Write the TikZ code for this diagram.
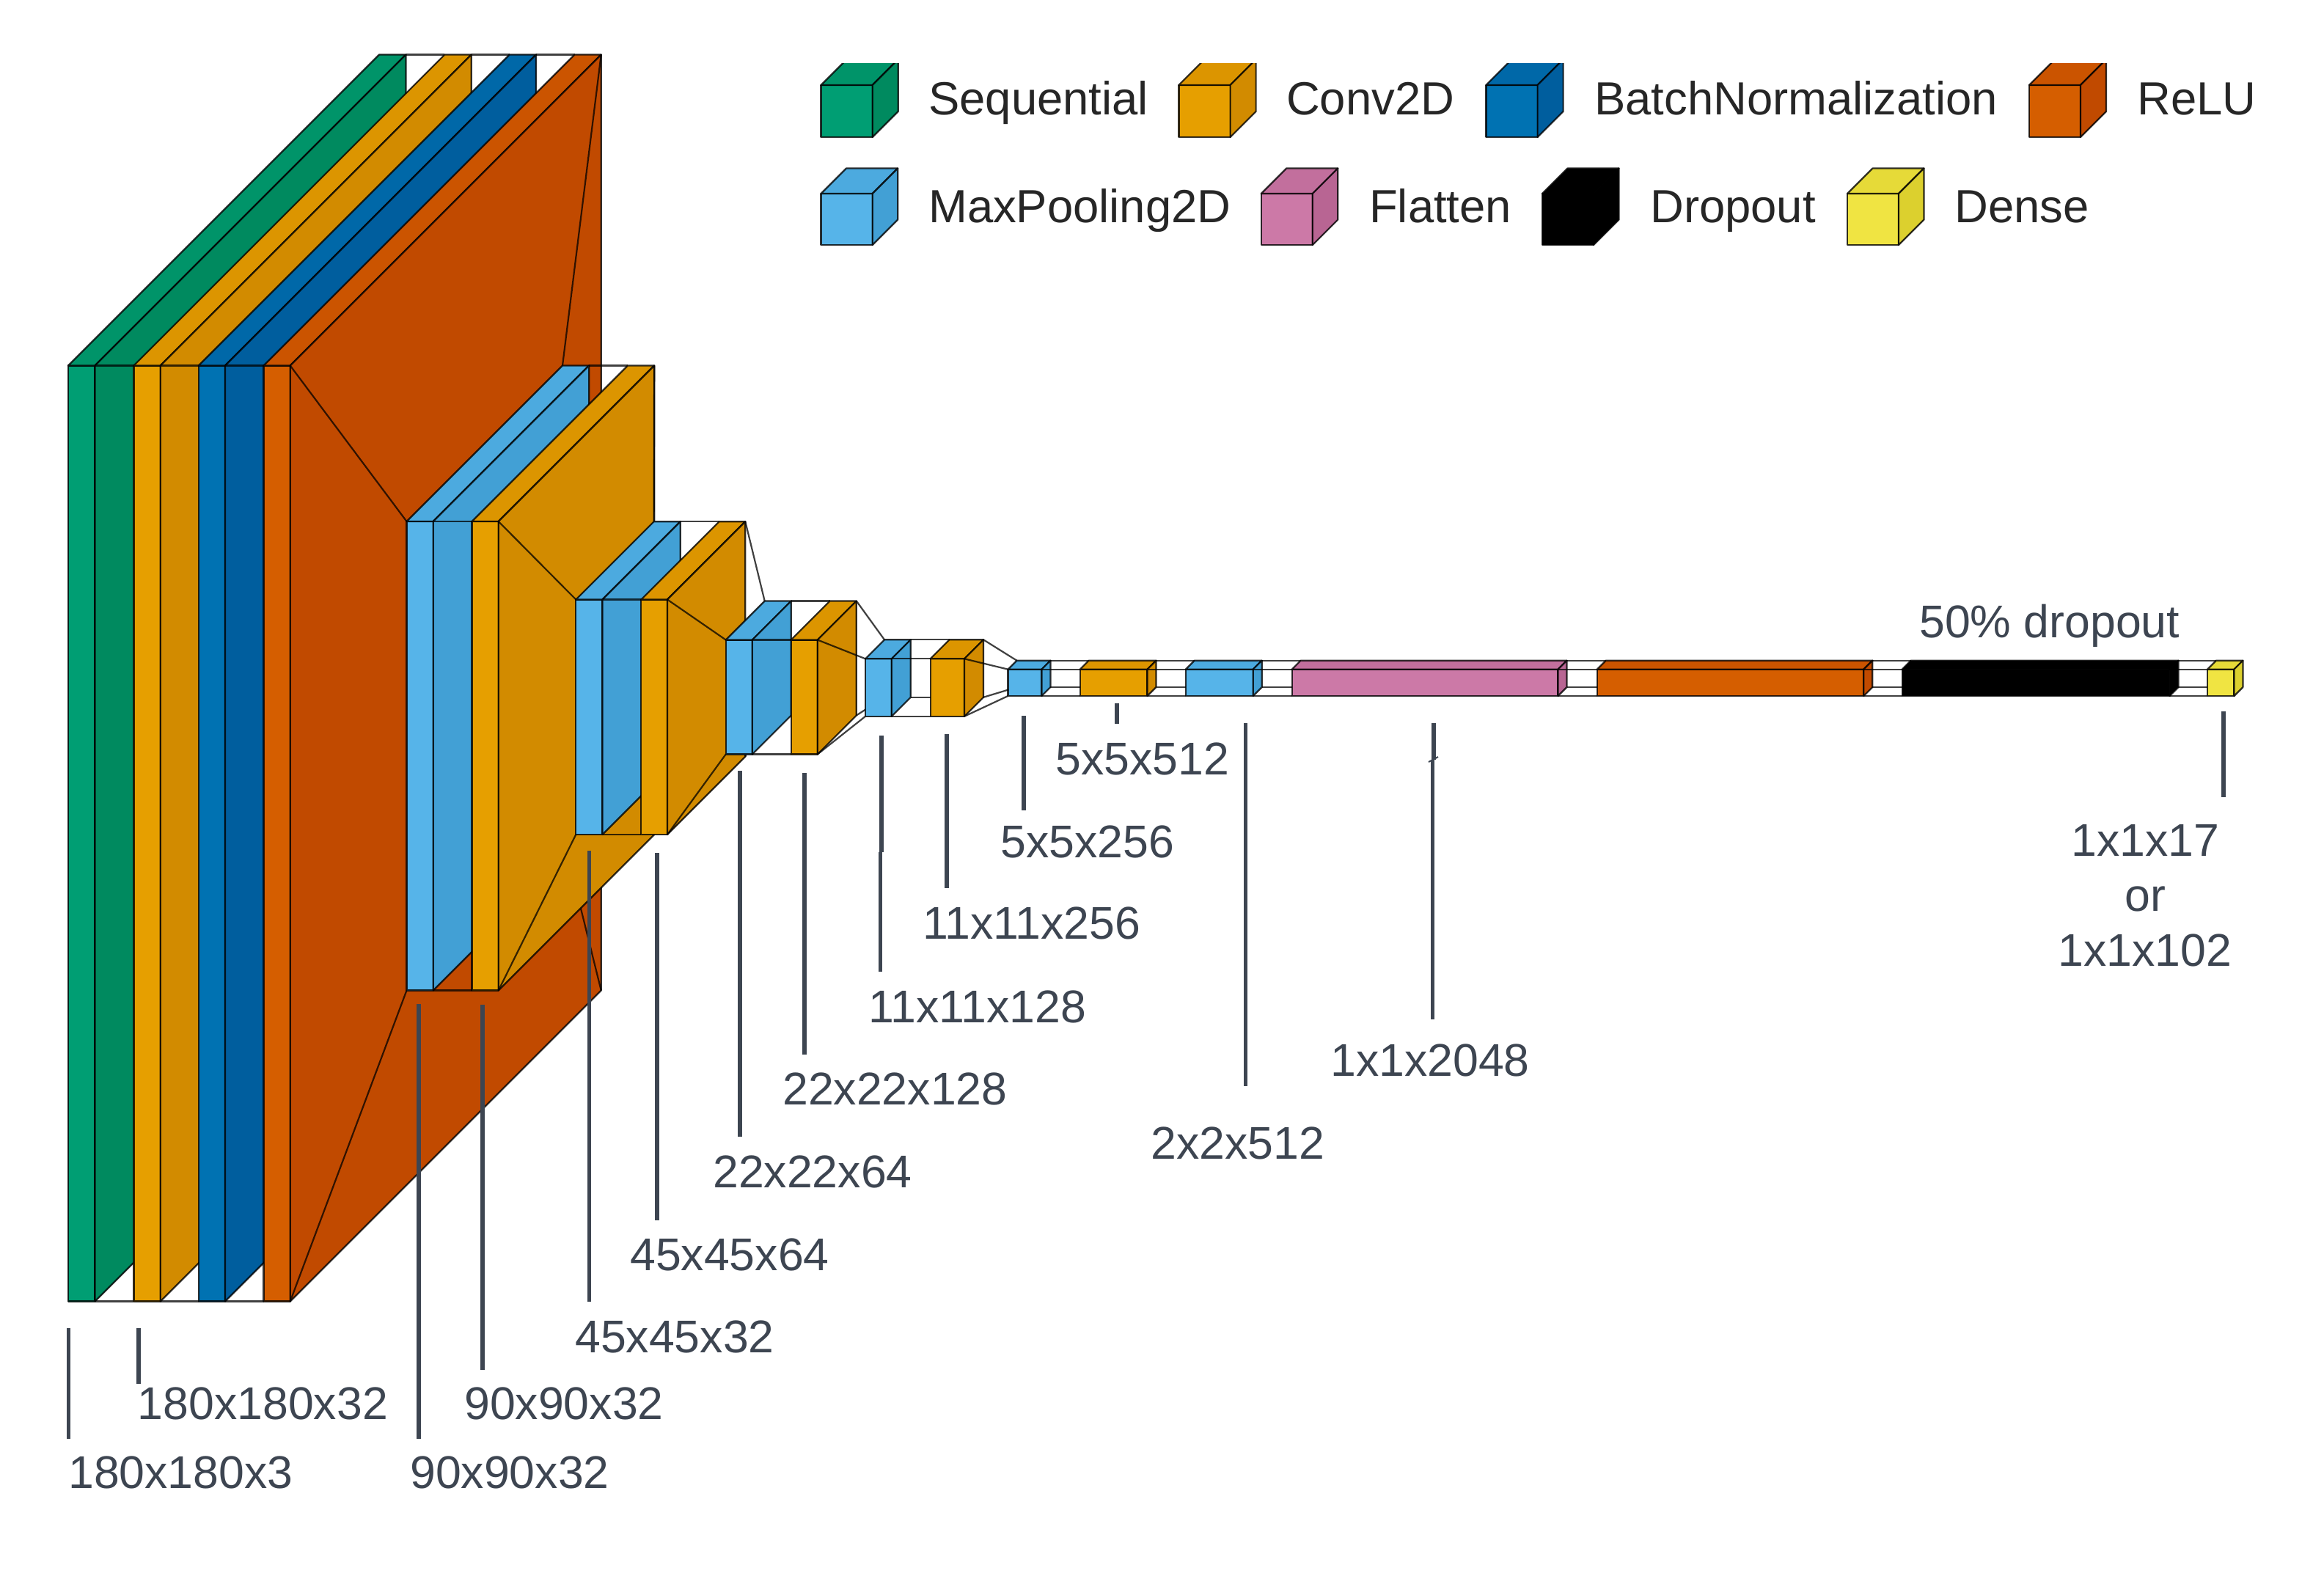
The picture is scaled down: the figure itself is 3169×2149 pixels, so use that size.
\documentclass[tikz,border=0pt]{standalone}
\usepackage{fontspec}
\setmainfont{Liberation Sans}
\definecolor{seqF}{HTML}{009E73}\definecolor{seqT}{HTML}{009469}\definecolor{seqS}{HTML}{008A5F}
\definecolor{conF}{HTML}{E69F00}\definecolor{conT}{HTML}{DC9500}\definecolor{conS}{HTML}{D28B00}
\definecolor{batF}{HTML}{0072B2}\definecolor{batT}{HTML}{0068A8}\definecolor{batS}{HTML}{005E9E}
\definecolor{relF}{HTML}{D55E00}\definecolor{relT}{HTML}{CB5400}\definecolor{relS}{HTML}{C14A00}
\definecolor{maxF}{HTML}{56B4E9}\definecolor{maxT}{HTML}{4CAADF}\definecolor{maxS}{HTML}{42A0D5}
\definecolor{flaF}{HTML}{CC79A7}\definecolor{flaT}{HTML}{C26F9D}\definecolor{flaS}{HTML}{B86593}
\definecolor{droF}{HTML}{000000}\definecolor{droT}{HTML}{000000}\definecolor{droS}{HTML}{000000}
\definecolor{denF}{HTML}{F0E442}\definecolor{denT}{HTML}{E6DA38}\definecolor{denS}{HTML}{DCD02E}
\definecolor{labelgrey}{HTML}{3D4551}
\tikzset{
  outl/.style={draw=black,draw opacity=.8,line width=2.2pt,line join=round},
  funnelline/.style={draw=black,draw opacity=.75,line width=2.2pt},
  ptr/.style={draw=labelgrey,line width=5.4pt},
  dimlabel/.style={anchor=base west,inner sep=0pt,text=labelgrey,font=\fontsize{62.6}{72}\selectfont},
  leglabel/.style={anchor=base west,inner sep=0pt,text=black!85,font=\fontsize{63.4}{72}\selectfont}
}
% name, x1, x2, y1, y2, depth
\newcommand{\lcoords}[6]{%
  \coordinate (#1-tl) at (#2,#4);
  \coordinate (#1-tr) at (#3,#4);
  \coordinate (#1-bl) at (#2,#5);
  \coordinate (#1-br) at (#3,#5);
  \coordinate (#1-btl) at ({#2+#6},{#4-#6});
  \coordinate (#1-btr) at ({#3+#6},{#4-#6});
  \coordinate (#1-bbr) at ({#3+#6},{#5-#6});
  \coordinate (#1-bbl) at ({#2+#6},{#5-#6});
}
% name, colour family
\newcommand{\lpaint}[2]{%
  \path[outl,fill=#2F] (#1-tl) -- (#1-tr) -- (#1-br) -- (#1-bl) -- cycle;
  \path[outl,fill=#2T] (#1-tl) -- (#1-btl) -- (#1-btr) -- (#1-tr) -- cycle;
  \path[outl,fill=#2S] (#1-tr) -- (#1-btr) -- (#1-bbr) -- (#1-br) -- cycle;
}
\newcommand{\funnel}[2]{%
  \draw[funnelline] (#1-btr) -- (#2-btl);
  \draw[funnelline] (#1-bbr) -- (#2-bbl);
  \draw[funnelline] (#1-br) -- (#2-bl);
  \draw[funnelline] (#1-tr) -- (#2-tl);
}
% name, x, y top, y bottom
\newcommand{\pointer}[4]{%
  \coordinate (#1-a) at (#2,#3);
  \coordinate (#1-b) at (#2,#4);
  \draw[ptr] (#1-a) -- (#1-b);
}
\begin{document}
\begin{tikzpicture}[x=1pt,y=-1pt]
\useasboundingbox (0,0) rectangle (3169,2149);
% layer geometry
\lcoords{a}{93}{129.5}{498.5}{1774.5}{424}
\lcoords{b}{182.4}{218.7}{498.5}{1774.5}{424}
\lcoords{c}{270.7}{307}{498.5}{1774.5}{424}
\lcoords{d}{359.5}{395.7}{498.5}{1774.5}{424}
\lcoords{e}{554.5}{590.7}{711}{1350.5}{212.5}
\lcoords{f}{643.5}{679.7}{711}{1350.5}{212.5}
\lcoords{g}{785.3}{821.5}{817.5}{1138}{106.3}
\lcoords{h}{874.3}{910}{817.5}{1138}{106.3}
\lcoords{i}{989.7}{1025.8}{872.5}{1028.5}{53}
\lcoords{j}{1078.6}{1114.8}{872.5}{1028.5}{53}
\lcoords{k}{1180}{1215.8}{898.3}{976.8}{26}
\lcoords{l}{1268.6}{1315}{898.3}{976.8}{26}
\lcoords{m}{1374.5}{1420.4}{912.7}{949}{12}
\lcoords{n}{1472.7}{1564.5}{912.7}{949}{12}
\lcoords{o}{1616.8}{1708.7}{912.7}{949}{12}
\lcoords{p}{1761.6}{2124.5}{912.7}{949}{12}
\lcoords{q}{2177.8}{2541.3}{912.7}{949}{12}
\lcoords{r}{2593.6}{2958.4}{912.7}{949}{12}
\lcoords{s}{3010}{3046.4}{912.7}{949}{12}
% layers, in order of painting
\lpaint{a}{seq}
\funnel{a}{b}\lpaint{b}{con}
\funnel{b}{c}\lpaint{c}{bat}
\funnel{c}{d}\lpaint{d}{rel}
\funnel{d}{e}\lpaint{e}{max}
\funnel{e}{f}\lpaint{f}{con}
\funnel{f}{g}\lpaint{g}{max}
\funnel{g}{h}\lpaint{h}{con}
\funnel{h}{i}\lpaint{i}{max}
\funnel{i}{j}\lpaint{j}{con}
\funnel{j}{k}\lpaint{k}{max}
\funnel{k}{l}\lpaint{l}{con}
\funnel{l}{m}\lpaint{m}{max}
\funnel{m}{n}\lpaint{n}{con}
\funnel{n}{o}\lpaint{o}{max}
\funnel{o}{p}\lpaint{p}{fla}
\funnel{p}{q}\lpaint{q}{rel}
\funnel{q}{r}\lpaint{r}{dro}
\funnel{r}{s}\lpaint{s}{den}
% legend, first row is cut off at the top
\begin{scope}
\clip (1000,86) rectangle (3169,200);
\lcoords{la}{1119.5}{1189.7}{116}{187}{35}\lpaint{la}{seq}
\lcoords{lb}{1607.4}{1677.6}{116}{187}{35}\lpaint{lb}{con}
\lcoords{lc}{2026.4}{2096.6}{116}{187}{35}\lpaint{lc}{bat}
\lcoords{ld}{2767}{2837}{116}{187}{35}\lpaint{ld}{rel}
\end{scope}
\lcoords{le}{1119.5}{1189.7}{264}{334}{34.5}\lpaint{le}{max}
\lcoords{lf}{1719.7}{1789.8}{264}{334}{34.5}\lpaint{lf}{fla}
\lcoords{lg}{2103}{2173}{264}{334}{34.5}\lpaint{lg}{dro}
\lcoords{lh}{2519}{2589}{264}{334}{34.5}\lpaint{lh}{den}
\node[leglabel] (tseq) at (1266,156) {Sequential};
\node[leglabel] (tcon) at (1754,156) {Conv2D};
\node[leglabel] (tbat) at (2174,156) {BatchNormalization};
\node[leglabel] (trel) at (2914,156) {ReLU};
\node[leglabel] (tmax) at (1266,303) {MaxPooling2D};
\node[leglabel] (tfla) at (1867,303) {Flatten};
\node[leglabel] (tdro) at (2250,303) {Dropout};
\node[leglabel] (tden) at (2665,303) {Dense};
% dimension labels
\node[dimlabel] (d1)  at (93,2029.6) {180x180x3};
\node[dimlabel] (d2)  at (187.6,1935) {180x180x32};
\node[dimlabel] (d3)  at (559,2029.6) {90x90x32};
\node[dimlabel] (d4)  at (633,1935) {90x90x32};
\node[dimlabel] (d5)  at (784,1844) {45x45x32};
\node[dimlabel] (d6)  at (859,1732) {45x45x64};
\node[dimlabel] (d7)  at (972,1619) {22x22x64};
\node[dimlabel] (d8)  at (1067,1506) {22x22x128};
\node[dimlabel] (d9)  at (1184,1394) {11x11x128};
\node[dimlabel] (d10) at (1258,1280) {11x11x256};
\node[dimlabel] (d11) at (1364,1169) {5x5x256};
\node[dimlabel] (d12) at (1439,1056) {5x5x512};
\node[dimlabel] (d13) at (1569,1580) {2x2x512};
\node[dimlabel] (d14) at (1814,1467) {1x1x2048};
\node[dimlabel] (d15) at (2824,1167) {1x1x17};
\node[dimlabel] (d16) at (2897,1242) {or};
\node[dimlabel] (d17) at (2806,1317) {1x1x102};
\node[dimlabel] (d18) at (2617,869) {50\% dropout};
% pointer lines
\pointer{p1}{93.7}{1811}{1962}
\pointer{p2}{189}{1811}{1887}
\pointer{p3}{571}{1369}{1962}
\pointer{p4}{658}{1370}{1868}
\pointer{p5}{803.5}{1160}{1775}
\pointer{p6}{896}{1163}{1664}
\pointer{p7}{1009}{1051}{1550}
\pointer{p8}{1097}{1054}{1438}
\pointer{p9}{1202}{1003}{1162}
\pointer{p9b}{1200.5}{1162}{1325}
\pointer{p10}{1291}{1001}{1211}
\pointer{p11}{1396}{976}{1105}
\pointer{p12}{1523}{959}{987}
\pointer{p13}{1698.5}{986}{1481}
\pointer{p14}{1955}{986}{1036}
\pointer{p14b}{1953.5}{1036}{1390}
\coordinate (tick-a) at (1948,1039);
\coordinate (tick-b) at (1961,1032);
\draw[draw=labelgrey,line width=2pt] (tick-a) -- (tick-b);
\pointer{p15}{3032}{970}{1087}
\end{tikzpicture}
\end{document}
